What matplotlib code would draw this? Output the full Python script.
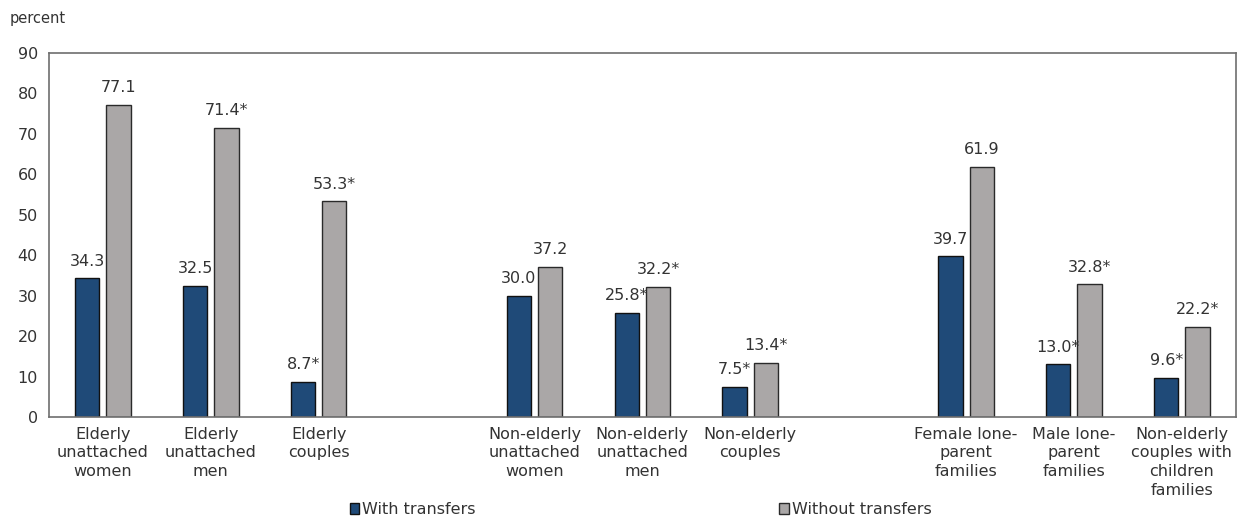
import matplotlib
matplotlib.use("Agg")
import matplotlib.pyplot as plt
import numpy as np

plt.rcParams["font.family"] = ["DejaVu Sans"]

categories = [
    "Elderly\nunattached\nwomen", "Elderly\nunattached\nmen", "Elderly\ncouples",
    "Non-elderly\nunattached\nwomen", "Non-elderly\nunattached\nmen", "Non-elderly\ncouples",
    "Female lone-\nparent\nfamilies", "Male lone-\nparent\nfamilies",
    "Non-elderly\ncouples with\nchildren\nfamilies",
]
slots = [0, 1, 2, 4, 5, 6, 8, 9, 10]
with_transfers = [34.3, 32.5, 8.7, 30.0, 25.8, 7.5, 39.7, 13.0, 9.6]
without_transfers = [77.1, 71.4, 53.3, 37.2, 32.2, 13.4, 61.9, 32.8, 22.2]
with_labels = ["34.3", "32.5", "8.7*", "30.0", "25.8*", "7.5*", "39.7", "13.0*", "9.6*"]
without_labels = ["77.1", "71.4*", "53.3*", "37.2", "32.2*", "13.4*", "61.9", "32.8*", "22.2*"]

dark = "#1f4a78"
grey = "#aaa7a7"
txt = "#333333"
fs = 11.5

fig = plt.figure(figsize=(12.37, 5.19), dpi=100)
ax = fig.add_axes([0.0396, 0.1965, 0.9594, 0.7015])

x = np.array(slots, dtype=float)
w = 0.225
off = 0.145
b1 = ax.bar(x - off, with_transfers, w, color=dark, edgecolor="#111111", linewidth=1.0,
            label="With transfers")
b2 = ax.bar(x + off, without_transfers, w, color=grey, edgecolor="#2a2a2a", linewidth=1.0,
            label="Without transfers")

for xi, v, s in zip(x - off, with_transfers, with_labels):
    ax.annotate(s, (xi, v), xytext=(0, 7), textcoords="offset points",
                ha="center", va="bottom", fontsize=fs, color=txt)
for xi, v, s in zip(x + off, without_transfers, without_labels):
    ax.annotate(s, (xi, v), xytext=(0, 7), textcoords="offset points",
                ha="center", va="bottom", fontsize=fs, color=txt)

ax.set_xlim(-0.5, 10.5)
ax.set_ylim(0, 90)
ax.set_yticks(range(0, 91, 10))
ax.set_xticks(slots)
ax.set_xticklabels(categories, fontsize=fs, color=txt, linespacing=1.3)
ax.tick_params(axis="y", length=0, pad=8, labelsize=fs, labelcolor=txt)
ax.tick_params(axis="x", length=0, pad=7)
for sp in ax.spines.values():
    sp.set_color("#6e6e6e")
    sp.set_linewidth(1.2)

fig.text(0.008, 0.965, "percent", fontsize=10.5, color=txt, va="center")

fig.legend(handles=[b1, b2], loc="center", bbox_to_anchor=(0.518, 0.018), ncol=2,
           frameon=False, fontsize=fs, handlelength=0.6, handleheight=0.7,
           handletextpad=0.2, columnspacing=19.0, labelcolor=txt,
           borderaxespad=0, borderpad=0)

fig.savefig("out.png", dpi=100)
